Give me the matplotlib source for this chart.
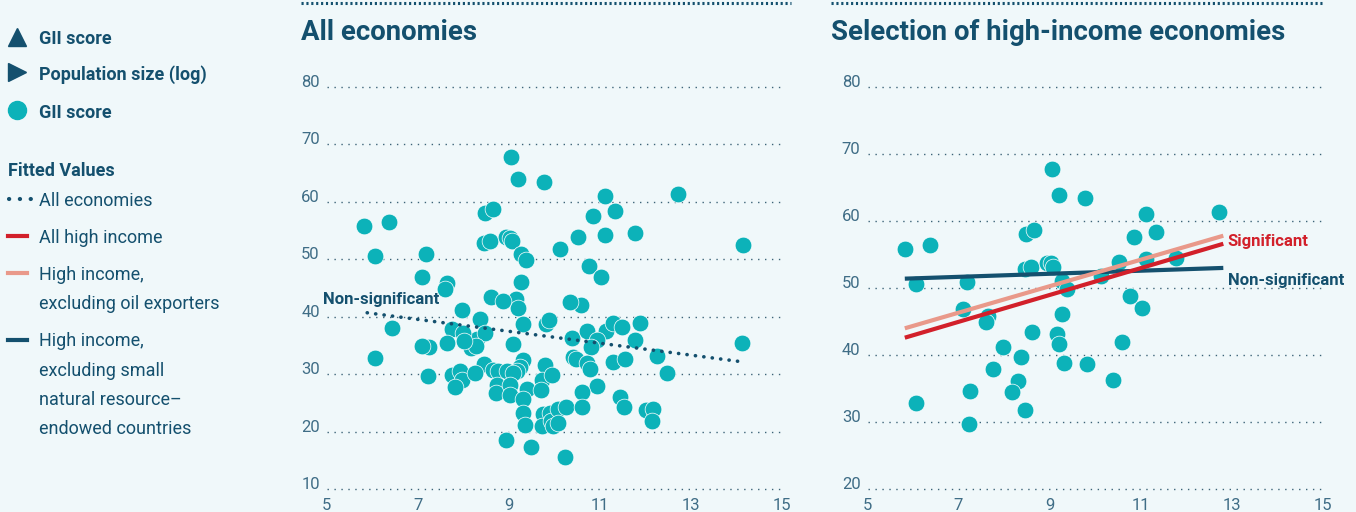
import matplotlib
matplotlib.use("Agg")
import matplotlib.pyplot as plt

# ---------------- data ----------------
# High-income economies: population size (log) and GII score
hi_pop = [5.82, 6.37, 6.07, 7.19, 7.10, 7.65, 7.60, 9.05, 9.21, 9.78,
          8.48, 8.66, 8.46, 8.59, 8.95, 9.03, 9.08, 9.27, 9.38, 9.27,
          8.62, 9.16, 9.21, 7.98, 8.37, 9.32, 9.82, 7.76, 8.31, 8.18,
          7.25, 6.07, 8.46, 7.23, 11.12, 12.73, 10.86, 11.34, 10.53, 11.12,
          11.78, 10.13, 10.77, 11.03, 10.59, 10.40]
hi_gii = [55.8, 56.4, 50.6, 50.9, 46.9, 45.9, 44.9, 67.8, 63.9, 63.4,
          58.1, 58.7, 52.9, 53.1, 53.8, 53.7, 53.1, 51.0, 49.8, 46.1,
          43.4, 43.1, 41.6, 41.2, 39.7, 38.8, 38.7, 37.9, 36.1, 34.5,
          34.7, 32.9, 31.8, 29.7, 61.0, 61.3, 57.6, 58.4, 53.9, 54.3,
          54.5, 51.8, 48.8, 47.0, 42.0, 36.3]

# Other economies
oth_pop = [8.88, 8.00, 8.48, 8.28, 8.02, 7.64, 7.09, 9.09, 9.32, 9.25,
           9.18, 9.80, 7.75, 7.93, 7.97, 7.82, 8.26, 8.66, 8.77, 8.96,
           9.10, 9.73, 9.95, 8.74, 8.72, 9.03, 9.03, 9.40, 9.31, 9.71,
           9.32, 9.36, 9.75, 9.73, 9.91, 9.93, 9.97, 10.08, 10.26, 10.08,
           8.94, 9.48, 10.24, 10.35, 9.89, 10.71, 11.14, 11.30, 11.48, 11.89,
           10.93, 10.80, 11.78, 10.42, 10.49, 10.71, 10.79, 11.30, 11.56, 12.27,
           12.49, 10.93, 10.62, 11.45, 11.54, 10.62, 12.02, 12.18, 12.15, 14.12,
           14.16, 6.44]
oth_gii = [42.8, 37.2, 37.2, 34.9, 35.8, 35.4, 34.9, 35.3, 32.5, 31.3,
           30.5, 31.6, 29.9, 30.5, 29.0, 27.8, 30.2, 30.7, 30.5, 30.5,
           30.2, 29.0, 29.9, 28.1, 26.7, 28.1, 26.4, 27.4, 25.7, 27.3,
           23.2, 21.2, 23.1, 21.0, 23.3, 21.9, 21.0, 24.0, 24.3, 21.5,
           18.5, 17.4, 15.7, 42.6, 39.4, 37.6, 37.6, 38.9, 38.3, 38.9,
           36.0, 34.8, 36.0, 33.0, 32.6, 32.0, 30.9, 32.2, 32.6, 33.1,
           30.2, 28.0, 27.0, 26.1, 24.3, 24.4, 23.8, 23.9, 21.9, 35.5,
           52.5, 38.1]

# Fitted values (end points of each fitted line)
fit_all_x = [5.89, 14.20]
fit_all_y = [40.7, 32.1]
fit_hi_x = [5.82, 12.82]
fit_hi_y = [42.6, 56.6]            # all high income
fit_hi_nooil_y = [44.0, 57.8]      # excluding oil exporters
fit_hi_nosmall_y = [51.4, 53.0]    # excluding small natural resource-endowed

x_ticks = [5, 7, 9, 11, 13, 15]
y_ticks_left = [10, 20, 30, 40, 50, 60, 70, 80]
y_ticks_right = [20, 30, 40, 50, 60, 70, 80]

titles = ["All economies", "Selection of high-income economies"]

# ---------------- style ----------------
BG = "#f0f8fa"
TEAL = "#0cb2b9"
NAVY = "#14506e"
RED = "#d2202a"
SALMON = "#e9998a"
TICK = "#3f6d86"
GRID = "#3d6478"
FONT = "Roboto"

plt.rcParams["font.family"] = [FONT, "DejaVu Sans"]

W, H = 1356, 512
fig = plt.figure(figsize=(W / 100, H / 100), dpi=100, facecolor=BG)

# overlay axes in pixel coordinates for the legend / decorations
ov = fig.add_axes([0, 0, 1, 1])
ov.set_xlim(0, W)
ov.set_ylim(H, 0)
ov.axis("off")
ov.patch.set_alpha(0)


def make_axes(left_px, ylim, yticks):
    ax = fig.add_axes([left_px / W, (H - 489.3) / H, 455 / W, (489.3 - 86.8) / H])
    ax.set_facecolor(BG)
    ax.set_xlim(5, 15)
    ax.set_ylim(*ylim)
    ax.set_xticks(x_ticks)
    ax.set_yticks(yticks)
    for s in ax.spines.values():
        s.set_visible(False)
    ax.tick_params(length=0, labelsize=12, labelcolor=TICK)
    ax.tick_params(axis="y", pad=5)
    ax.tick_params(axis="x", pad=6)
    for lab in ax.get_yticklabels():
        lab.set_verticalalignment("baseline")
    for t in yticks:
        ax.plot([5, 15], [t, t], color=GRID, lw=1.0, ls=(0, (1, 4)), zorder=1,
                clip_on=False)
    return ax


axL = make_axes(326.7, (10, 80), y_ticks_left)
axR = make_axes(867.5, (20, 80), y_ticks_right)

pt_kw = dict(s=145, color=TEAL, edgecolors="white", linewidths=0.5, zorder=3,
             clip_on=False)

# left: all economies
axL.scatter(hi_pop + oth_pop, hi_gii + oth_gii, **pt_kw)
axL.plot(fit_all_x, fit_all_y, color=NAVY, lw=2.6, ls=(0, (0.05, 2.3)),
         dash_capstyle="round", zorder=4)
axL.text(4.92, 43.0, "Non-significant", color=NAVY, fontsize=12,
         fontweight="bold", ha="left", va="center", zorder=5)

# right: high-income economies
axR.scatter(hi_pop, hi_gii, **pt_kw)
axR.plot(fit_hi_x, fit_hi_nosmall_y, color=NAVY, lw=3, solid_capstyle="butt", zorder=4)
axR.plot(fit_hi_x, fit_hi_nooil_y, color=SALMON, lw=3, solid_capstyle="butt", zorder=4)
axR.plot(fit_hi_x, fit_hi_y, color=RED, lw=3, solid_capstyle="butt", zorder=4)
axR.text(12.92, 57.0, "Significant", color=RED, fontsize=12,
         fontweight="bold", ha="left", va="center", zorder=5)
axR.text(12.92, 51.2, "Non-significant", color=NAVY, fontsize=12,
         fontweight="bold", ha="left", va="center", zorder=5)

# titles and top dotted rules
for x0, x1, title in [(301, 791, titles[0]), (831, 1322, titles[1])]:
    ov.plot([x0, x1], [2.5, 2.5], color=NAVY, lw=2.2, ls=(0, (0.7, 0.9)))
    ov.text(x0, 40, title, color=NAVY, fontsize=19.8, fontweight="bold",
            ha="left", va="baseline")

# ---------------- legend ----------------
ov.plot([17], [37], marker="^", ms=13, color=NAVY, ls="none")
ov.plot([17], [72], marker=">", ms=13, color=NAVY, ls="none")
ov.plot([17], [110], marker="o", ms=13, color=TEAL, ls="none")
leg_bold = [("GII score", 37.5), ("Population size (log)", 74), ("GII score", 111.5)]
for txt, yc in leg_bold:
    ov.text(39, yc + 6.3, txt, color=NAVY, fontsize=13, fontweight="bold",
            ha="left", va="baseline")

ov.text(8, 170 + 6.3, "Fitted Values", color=NAVY, fontsize=13,
        fontweight="bold", ha="left", va="baseline")

ov.plot([9, 31], [199.3, 199.3], color=NAVY, lw=3, ls=(0, (0.05, 2.55)),
        dash_capstyle="round")
ov.plot([8, 27], [236, 236], color=RED, lw=3)
ov.plot([8, 27], [273, 273], color=SALMON, lw=3)
ov.plot([8, 27], [339.5, 339.5], color=NAVY, lw=3)

leg_lines = [("All economies", 199.3), ("All high income", 236.7),
             ("High income,", 273.3), ("excluding oil exporters", 302.7),
             ("High income,", 340), ("excluding small", 369.3),
             ("natural resource\u2013", 398.3), ("endowed countries", 427.3)]
for txt, yc in leg_lines:
    ov.text(39, yc + 6.3, txt, color=NAVY, fontsize=13, ha="left",
            va="baseline")

fig.savefig("out.png", dpi=100, facecolor=BG)
